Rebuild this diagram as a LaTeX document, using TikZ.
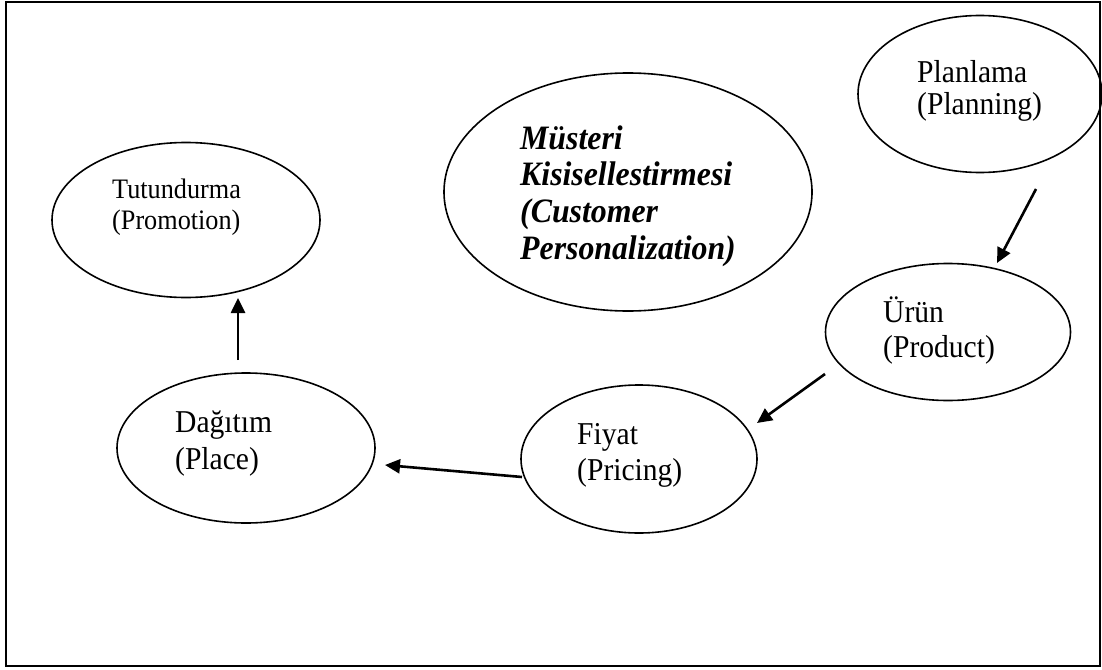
\documentclass[tikz,border=0pt]{standalone}
\usepackage{fontspec}
\setmainfont{Liberation Serif}[FakeStretch=0.93]
\usetikzlibrary{arrows.meta,shapes.geometric}

\begin{document}
\begin{tikzpicture}[x=1pt,y=-1pt,
    stage/.style={ellipse,draw,line width=1.6pt,inner sep=0},
    stagetext/.style={anchor=west,align=left,inner sep=0,
      font=\fontsize{31.8}{35}\selectfont},
    flow/.style={line width=2.6pt,-{Triangle[length=15pt,width=14pt]}}]
      \path[use as bounding box] (0,0) rectangle (1102,669);
      \draw[line width=2.2pt] (6,2) rectangle (1100,666);
      % ellipses
      \node[stage,minimum width=244,minimum height=157] (plan) at (980,94) {};
      \node[stage,minimum width=368,minimum height=238] (pers) at (628,192) {};
      \node[stage,minimum width=268,minimum height=155] (promo) at (186,220) {};
      \node[stage,minimum width=245,minimum height=137] (prod) at (948,332) {};
      \node[stage,minimum width=258,minimum height=150] (place) at (246,448) {};
      \node[stage,minimum width=236,minimum height=148] (price) at (639,459) {};
      % texts
      \node[stagetext,font=\fontsize{31.8}{32}\selectfont] (plantext)
        at (917,91) {Planlama\\(Planning)};
      \node[stagetext,font=\bfseries\itshape\fontsize{34.2}{36.7}\selectfont]
        (perstext) at (520,196)
        {Müsteri\\Kisisellestirmesi\\(Customer\\Personalization)};
      \node[stagetext,font=\fontsize{28.2}{31}\selectfont] (promotext)
        at (112,207.5) {Tutundurma\\(Promotion)};
      \node[stagetext] (prodtext) at (883,331) {Ürün\\(Product)};
      \node[stagetext,font=\fontsize{31.8}{37}\selectfont] (placetext)
        at (175,444) {Dağıtım\\(Place)};
      \node[stagetext,font=\fontsize{31.8}{36}\selectfont] (pricetext)
        at (577,455.5) {Fiyat\\(Pricing)};
      % arrows
      \coordinate (plan-out) at (1036,189);
      \coordinate (prod-in) at (997,263);
      \coordinate (prod-out) at (825,374);
      \coordinate (price-in) at (757,423);
      \coordinate (price-out) at (522,477);
      \coordinate (place-in) at (385,465);
      \coordinate (place-out) at (238,360);
      \coordinate (promo-in) at (238,298);
      \draw[flow] (plan-out) -- (prod-in);
      \draw[flow] (prod-out) -- (price-in);
      \draw[flow] (price-out) -- (place-in);
      \draw[flow] (place-out) -- (promo-in);
    \end{tikzpicture}
\end{document}
